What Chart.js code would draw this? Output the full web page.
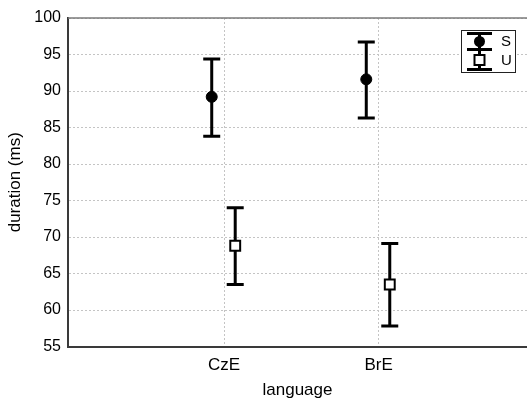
<!DOCTYPE html>
<html>
<head>
<meta charset="utf-8">
<script src="https://cdn.jsdelivr.net/npm/chart.js@4/dist/chart.umd.min.js"></script>
<style>
html,body{margin:0;padding:0;background:#fff;overflow:hidden;}
#wrap{width:527px;height:399px;}
</style>
</head>
<body>
<div id="wrap"><canvas id="c" width="527" height="399"></canvas></div>
<script>
const categories = ['CzE', 'BrE'];
const seriesNames = ['S', 'U'];
const sMean = [89.2, 91.6];
const sLow  = [83.8, 86.3];
const sHigh = [94.4, 96.7];
const uMean = [68.8, 63.5];
const uLow  = [63.5, 57.8];
const uHigh = [74.0, 69.1];
const yTicks = [55, 60, 65, 70, 75, 80, 85, 90, 95, 100];

const offS = -0.08, offU = 0.072;
function pts(mean, low, high, off) {
  return mean.map((m, i) => ({x: i + 1 + off, y: m, lo: low[i], hi: high[i]}));
}

const errorBars = {
  id: 'errorBars',
  beforeDatasetsDraw(chart) {
    const ctx = chart.ctx, xs = chart.scales.x, ys = chart.scales.y;
    ctx.save();
    ctx.strokeStyle = '#000';
    ctx.lineWidth = 3;
    chart.data.datasets.forEach(ds => {
      ds.data.forEach(p => {
        const x = xs.getPixelForValue(p.x);
        const y1 = ys.getPixelForValue(p.hi), y2 = ys.getPixelForValue(p.lo);
        ctx.beginPath();
        ctx.moveTo(x, y1); ctx.lineTo(x, y2);
        ctx.moveTo(x - 8.5, y1); ctx.lineTo(x + 8.5, y1);
        ctx.moveTo(x - 8.5, y2); ctx.lineTo(x + 8.5, y2);
        ctx.stroke();
      });
    });
    ctx.restore();
  },
  afterDraw(chart) {
    const ctx = chart.ctx, a = chart.chartArea;
    ctx.save();
    ctx.strokeStyle = '#7a7a7a';
    ctx.lineWidth = 1.5;
    ctx.beginPath(); ctx.moveTo(a.left, a.top); ctx.lineTo(a.right, a.top); ctx.stroke();
    // legend
    const bx = 461.5, by = 30.5, bw = 54, bh = 42;
    ctx.fillStyle = '#fff';
    ctx.fillRect(bx, by, bw, bh);
    ctx.strokeStyle = '#222';
    ctx.lineWidth = 1;
    ctx.strokeRect(bx, by, bw, bh);
    const cx = 479.5;
    ctx.strokeStyle = '#000';
    ctx.lineWidth = 3;
    ctx.beginPath();
    ctx.moveTo(467, 33.5); ctx.lineTo(492, 33.5);
    ctx.moveTo(467, 49.5); ctx.lineTo(492, 49.5);
    ctx.moveTo(467, 69.5); ctx.lineTo(492, 69.5);
    ctx.moveTo(cx, 33.5); ctx.lineTo(cx, 69.5);
    ctx.stroke();
    ctx.fillStyle = '#000';
    ctx.beginPath(); ctx.arc(cx, 41.5, 5.5, 0, Math.PI * 2); ctx.fill();
    ctx.fillStyle = '#fff';
    ctx.lineWidth = 2;
    ctx.fillRect(cx - 5, 55, 10, 10);
    ctx.strokeRect(cx - 5, 55, 10, 10);
    ctx.fillStyle = '#000';
    ctx.font = '15px "Liberation Sans", Arial, sans-serif';
    ctx.textAlign = 'left';
    ctx.textBaseline = 'middle';
    ctx.fillText(seriesNames[0], 501, 42);
    ctx.fillText(seriesNames[1], 501, 61);
    ctx.restore();
  }
};

const FONT = '"Liberation Sans", Arial, sans-serif';
new Chart(document.getElementById('c'), {
  type: 'scatter',
  data: {
    datasets: [
      {label: seriesNames[0], data: pts(sMean, sLow, sHigh, offS), pointStyle: 'circle', pointRadius: 5.5,
       backgroundColor: '#000', borderColor: '#000', borderWidth: 1, pointHoverRadius: 5.5},
      {label: seriesNames[1], data: pts(uMean, uLow, uHigh, offU), pointStyle: 'rect', pointRadius: 7,
       backgroundColor: '#fff', borderColor: '#000', borderWidth: 2, pointHoverRadius: 7}
    ]
  },
  options: {
    responsive: false,
    animation: false,
    events: [],
    layout: {autoPadding: false, padding: {top: 18, right: 0, left: 0, bottom: 0}},
    plugins: {legend: {display: false}, tooltip: {enabled: false}},
    scales: {
      x: {
        type: 'linear', min: -0.01, max: 2.96,
        afterBuildTicks: s => { s.ticks = categories.map((c, i) => ({value: i + 1})); },
        afterFit: s => { s.height = 52.5; s.paddingLeft = 0; s.paddingRight = 0; },
        ticks: {callback: (v) => categories[Math.round(v) - 1] || '', color: '#000',
                font: {family: FONT, size: 17}, padding: 9, maxRotation: 0, autoSkip: false},
        grid: {color: '#c4c4c4', lineWidth: 1, drawTicks: false},
        border: {display: true, color: '#3a3a3a', width: 2, dash: [2, 2]},
        title: {display: true, text: 'language', color: '#000', font: {family: FONT, size: 17}, padding: {top: 4, bottom: -1.5}}
      },
      y: {
        type: 'linear', min: 55, max: 100,
        afterBuildTicks: s => { s.ticks = yTicks.map(v => ({value: v})); },
        afterFit: s => { s.width = 68; },
        ticks: {color: '#000', font: {family: FONT, size: 16}, padding: 7},
        grid: {color: '#c4c4c4', lineWidth: 1, drawTicks: false},
        border: {display: true, color: '#3a3a3a', width: 2, dash: [2, 2]},
        title: {display: true, text: 'duration (ms)', color: '#000', font: {family: FONT, size: 17}, padding: {top: 5, bottom: 0}}
      }
    }
  },
  plugins: [errorBars]
});
</script>
</body>
</html>
